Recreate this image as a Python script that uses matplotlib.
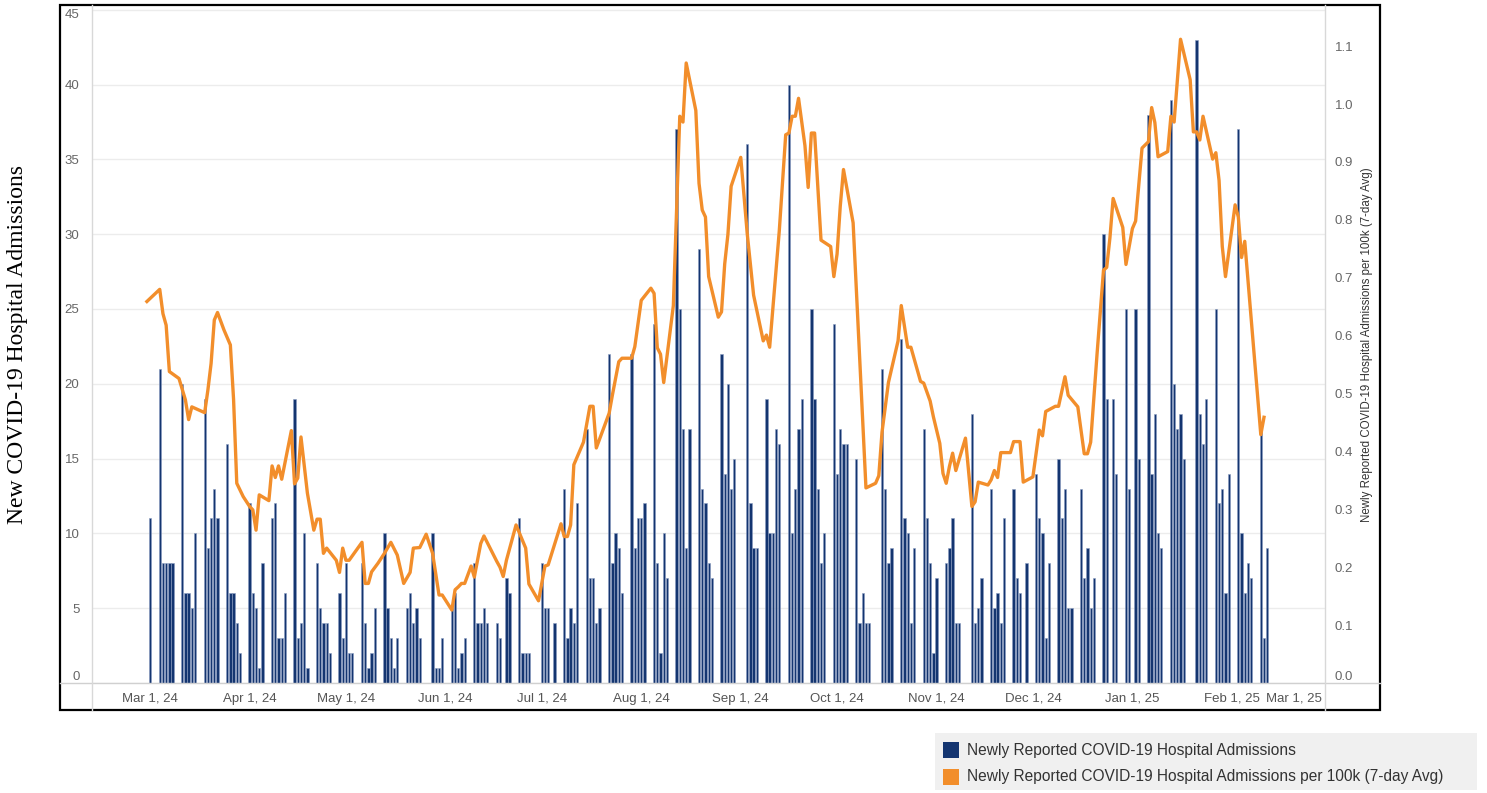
import matplotlib
matplotlib.use('Agg')
import matplotlib.pyplot as plt
import pandas as pd
from matplotlib.patches import Rectangle
from matplotlib.lines import Line2D
from matplotlib.transforms import ScaledTranslation

# daily admissions, rows are weeks Mon..Sun starting Mon Feb 26, 2024
week_start = '2024-02-26'
admissions = [
    0, 0, 0, 0, 11, 0, 0,
    21, 8, 8, 8, 8, 0, 0,
    20, 6, 6, 5, 10, 0, 0,
    19, 9, 11, 13, 11, 0, 0,
    16, 6, 6, 4, 2, 0, 0,
    12, 6, 5, 1, 8, 0, 0,
    11, 12, 3, 3, 6, 0, 0,
    19, 3, 4, 10, 1, 0, 0,
    8, 5, 4, 4, 2, 0, 0,
    6, 3, 8, 2, 2, 0, 0,
    8, 4, 1, 2, 5, 0, 0,
    10, 5, 3, 1, 3, 0, 0,
    5, 6, 4, 5, 3, 0, 0,
    0, 10, 1, 1, 3, 0, 0,
    5, 6, 1, 2, 3, 0, 0,
    8, 4, 4, 5, 4, 0, 0,
    4, 3, 0, 7, 6, 0, 0,
    11, 2, 2, 2, 0, 0, 0,
    8, 5, 5, 0, 4, 0, 0,
    13, 3, 5, 4, 12, 0, 0,
    17, 7, 7, 4, 5, 0, 0,
    22, 8, 10, 9, 6, 0, 0,
    22, 9, 11, 11, 12, 0, 0,
    24, 8, 2, 10, 7, 0, 0,
    37, 25, 17, 9, 17, 0, 0,
    29, 13, 12, 8, 7, 0, 0,
    22, 14, 20, 13, 15, 0, 0,
    0, 36, 12, 9, 9, 0, 0,
    19, 10, 10, 17, 16, 0, 0,
    40, 10, 13, 17, 19, 0, 0,
    25, 19, 13, 8, 10, 0, 0,
    24, 14, 17, 16, 16, 0, 0,
    15, 4, 6, 4, 4, 0, 0,
    0, 21, 13, 8, 9, 0, 0,
    23, 11, 10, 4, 9, 0, 0,
    17, 11, 8, 2, 7, 0, 0,
    8, 9, 11, 4, 4, 0, 0,
    0, 18, 4, 5, 7, 0, 0,
    13, 5, 6, 4, 11, 0, 0,
    13, 7, 6, 0, 8, 0, 0,
    14, 11, 10, 3, 8, 0, 0,
    15, 11, 13, 5, 5, 0, 0,
    13, 7, 9, 5, 7, 0, 0,
    30, 19, 0, 19, 14, 0, 0,
    25, 13, 0, 25, 15, 0, 0,
    38, 14, 18, 10, 9, 0, 0,
    39, 20, 17, 18, 15, 0, 0,
    0, 43, 18, 16, 19, 0, 0,
    25, 12, 13, 6, 14, 0, 0,
    37, 10, 6, 8, 7, 0, 0,
    17, 3, 9,
]

# 7-day average per 100k, days counted from Mar 1, 2024
avg_origin = '2024-03-01'
avg_day = [-1, 3, 4, 5, 6, 9, 11, 12, 13, 17, 18, 19, 20, 21, 23, 25, 26, 27, 29, 31,
           32, 33, 34, 37, 38, 39, 40, 41, 44, 45, 46, 47, 49, 51, 52, 53, 54, 55, 58, 59,
           60, 61, 62, 66, 67, 68, 69, 71, 73, 75, 77, 79, 81, 82, 84, 86, 88, 90, 91, 94,
           95, 96, 97, 98, 100, 101, 103, 104, 108, 109, 110, 111, 114, 117, 118, 121, 123, 124, 128, 129,
           130, 131, 132, 135, 137, 138, 139, 143, 144, 146, 147, 150, 151, 153, 156, 157, 158, 159, 160, 163,
           165, 166, 167, 170, 171, 172, 173, 174, 177, 178, 179, 180, 181, 184, 186, 188, 191, 192, 193, 196,
           198, 199, 200, 201, 202, 204, 205, 206, 207, 209, 212, 213, 214, 215, 216, 219, 223, 226, 227, 228,
           230, 233, 234, 236, 237, 240, 241, 243, 244, 246, 247, 248, 249, 250, 251, 254, 256, 257, 258, 261,
           262, 263, 264, 265, 268, 269, 271, 272, 275, 277, 278, 279, 282, 283, 285, 286, 289, 291, 292, 293,
           295, 297, 298, 299, 300, 303, 304, 306, 307, 309, 311, 312, 313, 314, 317, 318, 319, 321, 324, 325,
           326, 327, 328, 331, 332, 333, 334, 335, 338, 339, 340, 341, 346, 347]
avg_rate = [0.659, 0.680, 0.638, 0.618, 0.538, 0.526, 0.489, 0.455, 0.477, 0.467, 0.506, 0.552, 0.627, 0.640, 0.610, 0.584, 0.49, 0.345, 0.322, 0.305,
            0.299, 0.264, 0.325, 0.315, 0.375, 0.355, 0.375, 0.352, 0.436, 0.344, 0.354, 0.425, 0.328, 0.264, 0.283, 0.283, 0.224, 0.233, 0.212, 0.191,
            0.233, 0.212, 0.212, 0.243, 0.172, 0.172, 0.192, 0.207, 0.224, 0.243, 0.221, 0.172, 0.191, 0.233, 0.234, 0.257, 0.224, 0.152, 0.152, 0.126,
            0.161, 0.166, 0.172, 0.172, 0.202, 0.183, 0.241, 0.254, 0.210, 0.200, 0.184, 0.212, 0.273, 0.233, 0.171, 0.142, 0.202, 0.204, 0.275, 0.253,
            0.253, 0.273, 0.377, 0.416, 0.478, 0.478, 0.406, 0.466, 0.497, 0.555, 0.561, 0.561, 0.581, 0.661, 0.682, 0.673, 0.579, 0.568, 0.519, 0.652,
            0.979, 0.969, 1.071, 0.989, 0.863, 0.817, 0.805, 0.702, 0.632, 0.641, 0.724, 0.775, 0.858, 0.908, 0.777, 0.670, 0.591, 0.601, 0.580, 0.781,
            0.947, 0.950, 0.979, 0.979, 1.010, 0.928, 0.856, 0.950, 0.950, 0.765, 0.754, 0.702, 0.741, 0.824, 0.887, 0.795, 0.337, 0.345, 0.358, 0.433,
            0.519, 0.591, 0.652, 0.580, 0.580, 0.521, 0.518, 0.487, 0.460, 0.414, 0.362, 0.345, 0.374, 0.397, 0.367, 0.423, 0.305, 0.313, 0.347, 0.342,
            0.351, 0.367, 0.355, 0.398, 0.398, 0.417, 0.417, 0.347, 0.356, 0.437, 0.427, 0.469, 0.478, 0.478, 0.529, 0.497, 0.477, 0.396, 0.396, 0.416,
            0.569, 0.713, 0.718, 0.769, 0.837, 0.787, 0.723, 0.785, 0.798, 0.924, 0.935, 0.994, 0.968, 0.909, 0.918, 0.979, 0.969, 1.112, 1.042, 0.952,
            0.952, 0.938, 0.979, 0.905, 0.916, 0.868, 0.754, 0.702, 0.826, 0.805, 0.735, 0.763, 0.429, 0.459]

left_ticks = list(range(0, 50, 5))
right_ticks = [i / 10 for i in range(12)]
bar_label = 'Newly Reported COVID-19 Hospital Admissions'
line_label = 'Newly Reported COVID-19 Hospital Admissions per 100k (7-day Avg)'

NAVY = '#143570'
ORANGE = '#f28e2b'
W, H = 1487, 793


def fx(px):
    return px / W


def fy(py):
    return 1 - py / H


fig = plt.figure(figsize=(W / 100, H / 100), dpi=100)
plt.rcParams['font.family'] = ['Liberation Sans', 'DejaVu Sans']

ax = fig.add_axes([fx(92), fy(683), fx(1325) - fx(92), fy(8) - fy(683)])

bar_dates = pd.date_range(week_start, periods=len(admissions), freq='D')
ax.bar(bar_dates, admissions, width=0.72, color=NAVY, edgecolor='#8a9cc0',
       linewidth=0.4, zorder=2)

origin = pd.Timestamp(avg_origin)
ax.set_xlim(origin - pd.Timedelta(days=18.1), origin + pd.Timedelta(days=366))
ax.set_ylim(0, 45.12)
ax.set_yticks(left_ticks)
ax.yaxis.grid(True, color='#ececec', linewidth=1)
ax.set_axisbelow(True)

months = pd.date_range('2024-03-01', '2025-03-01', freq='MS')
ax.set_xticks(months)
ax.set_xticklabels([f"{m:%b} {m.day}, {m:%y}" for m in months])
ax.get_xticklabels()[-1].set_ha('right')
ax.tick_params(axis='x', length=0, labelsize=9.5, labelcolor='#555555', pad=7)
ax.tick_params(axis='y', length=0, labelsize=9.5, labelcolor='#666666', pad=9)

ax2 = ax.twinx()
line_dates = origin + pd.to_timedelta(avg_day, unit='D')
ax2.plot(line_dates, avg_rate, color=ORANGE, linewidth=2.4, solid_joinstyle='round', zorder=3)
ax2.set_ylim(0, 1.166)
ax2.set_yticks(right_ticks)
ax2.set_yticklabels([f"{t:.1f}" for t in right_ticks])
ax2.tick_params(axis='y', length=0, labelsize=9.5, labelcolor='#666666', pad=7)

for a in (ax, ax2):
    for s in a.spines.values():
        s.set_visible(False)

# nudge the end labels like the original
up = ScaledTranslation(0, 0.07, fig.dpi_scale_trans)
down = ScaledTranslation(0, -0.04, fig.dpi_scale_trans)
lab = ax.get_yticklabels()
lab[0].set_transform(lab[0].get_transform() + up)
lab[-1].set_transform(lab[-1].get_transform() + down)
lab2 = ax2.get_yticklabels()
lab2[0].set_transform(lab2[0].get_transform() + up)

# frame and separators
fig.add_artist(Line2D([fx(60), fx(1380)], [fy(683), fy(683)], color='#d0d0d0', lw=1))
fig.add_artist(Line2D([fx(92), fx(92)], [fy(5), fy(710)], color='#d8d8d8', lw=1))
fig.add_artist(Line2D([fx(1325), fx(1325)], [fy(5), fy(710)], color='#d8d8d8', lw=1))
fig.add_artist(Rectangle((fx(60), fy(710)), fx(1380) - fx(60), fy(5) - fy(710),
                         fill=False, edgecolor='black', lw=1.6, transform=fig.transFigure))

fig.text(fx(18), fy(345), 'New COVID-19 Hospital Admissions', rotation=90,
         ha='center', va='center', fontsize=17, family=['Liberation Serif', 'DejaVu Serif'])
fig.text(fx(1367), fy(345), line_label, rotation=90, ha='center', va='center',
         fontsize=8.3, color='#333333')

# legend
fig.add_artist(Rectangle((fx(935), fy(790)), fx(1477) - fx(935), fy(733) - fy(790),
                         facecolor='#f0f0f0', edgecolor='none', transform=fig.transFigure))
for i, (c, t) in enumerate([(NAVY, bar_label), (ORANGE, line_label)]):
    y0 = 742 + 27 * i
    fig.add_artist(Rectangle((fx(943), fy(y0 + 16)), fx(16), 16 / H, facecolor=c,
                             edgecolor='none', transform=fig.transFigure))
    fig.text(fx(967), fy(y0 + 8), t, ha='left', va='center', fontsize=11.2, color='#333333')

fig.savefig('out.png', dpi=100)
